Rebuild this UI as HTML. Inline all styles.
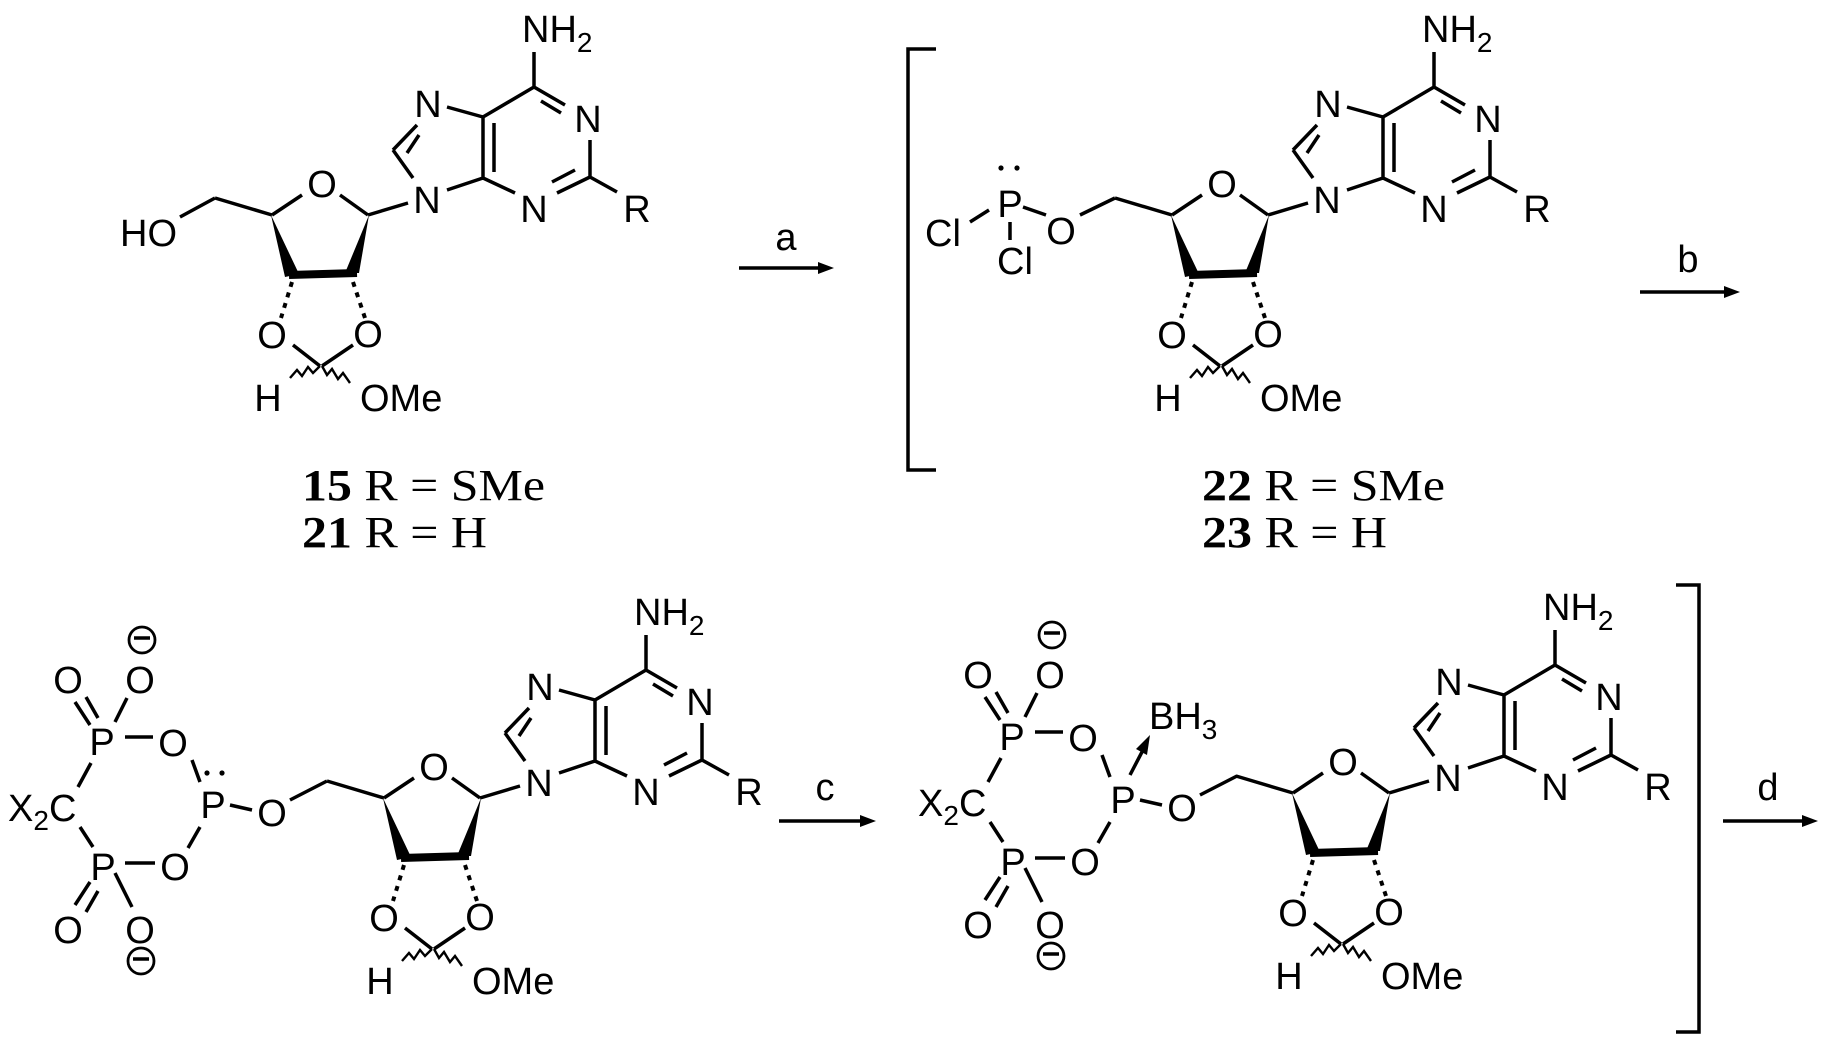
<!DOCTYPE html>
<html><head><meta charset="utf-8"><style>
html,body{margin:0;padding:0;background:#fff;}
svg{display:block;}
text{font-family:"Liberation Sans Narrow","Liberation Sans",sans-serif;font-size:38px;fill:#000;}
.s{font-family:"Liberation Serif",serif;font-size:44px;}
.m{text-anchor:middle;}
.b{stroke:#000;stroke-width:3.5;fill:none;stroke-linecap:butt;}
.h{stroke:#000;stroke-width:4;fill:none;stroke-dasharray:5 6;}
.w{stroke:#000;stroke-width:2.4;fill:none;}
</style></head><body>
<svg width="1834" height="1051" viewBox="0 0 1834 1051" xmlns="http://www.w3.org/2000/svg">

<!-- ===== Molecule 1 ===== -->
<g>
<path class="b" d="M534,52L534,87 M534,87L565,105 M541,101L561,113 M590,140L590,177 M590,177L617,192 M590,177L557,193 M575,170L552,182 M515,193L483,178 M483,178L483,117 M494,123L494,172 M483,117L534,87 M483,117L447,107 M417,125L393,150 M419,135L407,153 M393,150L413,178 M447,190L483,178 M408,203L368,215 M368,215L340,195 M302,195L272,215 M272,215L215,198 M215,198L180,217 M293,345L320,366 M353,345L322,366"/>
<polygon points="271,215 285,277 299,274"/><polygon points="369,215 345,273 359,273"/>
<path d="M289,275L357,273" stroke="#000" stroke-width="8"/>
<path class="h" d="M292,282L281,318 M353,282L365,318"/>
<polyline class="w" points="320,366 313,373 308,367 302,376 297,370 290,378"/>
<polyline class="w" points="322,366 327,375 332,369 338,379 343,373 350,383"/>
<text x="522" y="42">NH<tspan font-size="28" dy="10">2</tspan></text>
<text class="m" x="588" y="132">N</text><text class="m" x="534" y="222">N</text>
<text class="m" x="637" y="222">R</text><text class="m" x="428" y="117">N</text>
<text class="m" x="427" y="213">N</text><text class="m" x="322" y="197">O</text>
<text class="m" x="272" y="348">O</text><text class="m" x="368" y="347">O</text>
<text class="m" x="268" y="411">H</text><text x="360" y="411">OMe</text>
<text x="120" y="246">HO</text>
</g>
<text class="s" x="302" y="500" textLength="243" lengthAdjust="spacingAndGlyphs"><tspan font-weight="bold">15</tspan> R = SMe</text>
<text class="s" x="302" y="547" textLength="185" lengthAdjust="spacingAndGlyphs"><tspan font-weight="bold">21</tspan> R = H</text>

<!-- arrow a -->
<path class="b" d="M739,268L822,268"/><polygon points="834,268 818,262 818,274"/>
<text class="m" x="786" y="250" font-size="32">a</text>

<!-- ===== Molecule 2 ===== -->
<path class="b" d="M936,49L908,49L908,470L936,470"/>
<g transform="translate(900,0)">
<path class="b" d="M534,52L534,87 M534,87L565,105 M541,101L561,113 M590,140L590,177 M590,177L617,192 M590,177L557,193 M575,170L552,182 M515,193L483,178 M483,178L483,117 M494,123L494,172 M483,117L534,87 M483,117L447,107 M417,125L393,150 M419,135L407,153 M393,150L413,178 M447,190L483,178 M408,203L368,215 M368,215L340,195 M302,195L272,215 M272,215L215,198 M293,345L320,366 M353,345L322,366"/>
<polygon points="271,215 285,277 299,274"/><polygon points="369,215 345,273 359,273"/>
<path d="M289,275L357,273" stroke="#000" stroke-width="8"/>
<path class="h" d="M292,282L281,318 M353,282L365,318"/>
<polyline class="w" points="320,366 313,373 308,367 302,376 297,370 290,378"/>
<polyline class="w" points="322,366 327,375 332,369 338,379 343,373 350,383"/>
<text x="522" y="42">NH<tspan font-size="28" dy="10">2</tspan></text>
<text class="m" x="588" y="132">N</text><text class="m" x="534" y="222">N</text>
<text class="m" x="637" y="222">R</text><text class="m" x="428" y="117">N</text>
<text class="m" x="427" y="213">N</text><text class="m" x="322" y="197">O</text>
<text class="m" x="272" y="348">O</text><text class="m" x="368" y="347">O</text>
<text class="m" x="268" y="411">H</text><text x="360" y="411">OMe</text>
</g>
<path class="b" d="M970,222L989,210 M1010,222L1010,240 M1023,207L1046,215 M1080,215L1115,198"/>
<circle cx="1001" cy="168" r="2.6"/><circle cx="1017" cy="168" r="2.6"/>
<text class="m" x="1010" y="217">P</text>
<text x="925" y="246">Cl</text><text x="997" y="274">Cl</text>
<text class="m" x="1061" y="244">O</text>
<text class="s" x="1202" y="500" textLength="243" lengthAdjust="spacingAndGlyphs"><tspan font-weight="bold">22</tspan> R = SMe</text>
<text class="s" x="1202" y="547" textLength="185" lengthAdjust="spacingAndGlyphs"><tspan font-weight="bold">23</tspan> R = H</text>

<!-- arrow b -->
<path class="b" d="M1640,292L1728,292"/><polygon points="1740,292 1724,286 1724,298"/>
<text class="m" x="1688" y="272" font-size="32">b</text>

<!-- ===== Molecule 3 ===== -->
<g transform="translate(112,583)">
<path class="b" d="M534,52L534,87 M534,87L565,105 M541,101L561,113 M590,140L590,177 M590,177L617,192 M590,177L557,193 M575,170L552,182 M515,193L483,178 M483,178L483,117 M494,123L494,172 M483,117L534,87 M483,117L447,107 M417,125L393,150 M419,135L407,153 M393,150L413,178 M447,190L483,178 M408,203L368,215 M368,215L340,195 M302,195L272,215 M272,215L215,198 M293,345L320,366 M353,345L322,366"/>
<polygon points="271,215 285,277 299,274"/><polygon points="369,215 345,273 359,273"/>
<path d="M289,275L357,273" stroke="#000" stroke-width="8"/>
<path class="h" d="M292,282L281,318 M353,282L365,318"/>
<polyline class="w" points="320,366 313,373 308,367 302,376 297,370 290,378"/>
<polyline class="w" points="322,366 327,375 332,369 338,379 343,373 350,383"/>
<text x="522" y="42">NH<tspan font-size="28" dy="10">2</tspan></text>
<text class="m" x="588" y="132">N</text><text class="m" x="534" y="222">N</text>
<text class="m" x="637" y="222">R</text><text class="m" x="428" y="117">N</text>
<text class="m" x="427" y="213">N</text><text class="m" x="322" y="197">O</text>
<text class="m" x="272" y="348">O</text><text class="m" x="368" y="347">O</text>
<text class="m" x="268" y="411">H</text><text x="360" y="411">OMe</text>
</g>
<g>
<path class="b" d="M91,763L78,787 M80,827L93,847 M125,737L153,737 M192,760L200,782 M200,827L188,848 M125,863L155,863 M230,805L252,810 M290,800L327,781 M75,702L90,725 M86,697L98,718 M127,698L115,722 M90,882L75,905 M98,891L86,912 M115,873L132,907"/>
<circle cx="142" cy="640" r="13" fill="none" stroke="#000" stroke-width="2.8"/><path class="b" d="M134,638L150,638"/>
<circle cx="141" cy="961" r="13" fill="none" stroke="#000" stroke-width="2.8"/><path class="b" d="M133,959L149,959"/>
<text class="m" x="68" y="693">O</text><text class="m" x="140" y="693">O</text>
<text class="m" x="102" y="755">P</text><text class="m" x="173" y="756">O</text>
<text x="8" y="821">X<tspan font-size="28" dy="9">2</tspan><tspan dy="-9">C</tspan></text>
<text class="m" x="213" y="818">P</text>
<circle cx="207" cy="773" r="2.6"/><circle cx="222" cy="773" r="2.6"/>
<text class="m" x="272" y="826">O</text>
<text class="m" x="103" y="880">P</text><text class="m" x="175" y="880">O</text>
<text class="m" x="68" y="943">O</text><text class="m" x="140" y="943">O</text>
</g>

<!-- arrow c -->
<path class="b" d="M779,821L864,821"/><polygon points="876,821 860,815 860,827"/>
<text class="m" x="825" y="800" font-size="32">c</text>

<!-- ===== Molecule 4 ===== -->
<g transform="translate(1021,578)">
<path class="b" d="M534,52L534,87 M534,87L565,105 M541,101L561,113 M590,140L590,177 M590,177L617,192 M590,177L557,193 M575,170L552,182 M515,193L483,178 M483,178L483,117 M494,123L494,172 M483,117L534,87 M483,117L447,107 M417,125L393,150 M419,135L407,153 M393,150L413,178 M447,190L483,178 M408,203L368,215 M368,215L340,195 M302,195L272,215 M272,215L215,198 M293,345L320,366 M353,345L322,366"/>
<polygon points="271,215 285,277 299,274"/><polygon points="369,215 345,273 359,273"/>
<path d="M289,275L357,273" stroke="#000" stroke-width="8"/>
<path class="h" d="M292,282L281,318 M353,282L365,318"/>
<polyline class="w" points="320,366 313,373 308,367 302,376 297,370 290,378"/>
<polyline class="w" points="322,366 327,375 332,369 338,379 343,373 350,383"/>
<text x="522" y="42">NH<tspan font-size="28" dy="10">2</tspan></text>
<text class="m" x="588" y="132">N</text><text class="m" x="534" y="222">N</text>
<text class="m" x="637" y="222">R</text><text class="m" x="428" y="117">N</text>
<text class="m" x="427" y="213">N</text><text class="m" x="322" y="197">O</text>
<text class="m" x="272" y="348">O</text><text class="m" x="368" y="347">O</text>
<text class="m" x="268" y="411">H</text><text x="360" y="411">OMe</text>
</g>
<g transform="translate(910,-5)">
<path class="b" d="M91,763L78,787 M80,827L93,847 M125,737L153,737 M192,760L200,782 M200,827L188,848 M125,863L155,863 M230,805L252,810 M290,800L327,781 M75,702L90,725 M86,697L98,718 M127,698L115,722 M90,882L75,905 M98,891L86,912 M115,873L132,907"/>
<circle cx="142" cy="640" r="13" fill="none" stroke="#000" stroke-width="2.8"/><path class="b" d="M134,638L150,638"/>
<circle cx="141" cy="961" r="13" fill="none" stroke="#000" stroke-width="2.8"/><path class="b" d="M133,959L149,959"/>
<text class="m" x="68" y="693">O</text><text class="m" x="140" y="693">O</text>
<text class="m" x="102" y="755">P</text><text class="m" x="173" y="756">O</text>
<text x="8" y="821">X<tspan font-size="28" dy="9">2</tspan><tspan dy="-9">C</tspan></text>
<text class="m" x="213" y="818">P</text>
<text class="m" x="272" y="826">O</text>
<text class="m" x="103" y="880">P</text><text class="m" x="175" y="880">O</text>
<text class="m" x="68" y="943">O</text><text class="m" x="140" y="943">O</text>
<path class="b" d="M220,780L233,755"/><polygon points="240,740 226,754 237,760"/>
<text x="239" y="734">BH<tspan font-size="28" dy="10">3</tspan></text>
</g>
<path class="b" d="M1676,585L1699,585L1699,1032L1676,1032"/>

<!-- arrow d -->
<path class="b" d="M1723,821L1806,821"/><polygon points="1818,821 1802,815 1802,827"/>
<text class="m" x="1768" y="800" font-size="32">d</text>
</svg>
</body></html>
